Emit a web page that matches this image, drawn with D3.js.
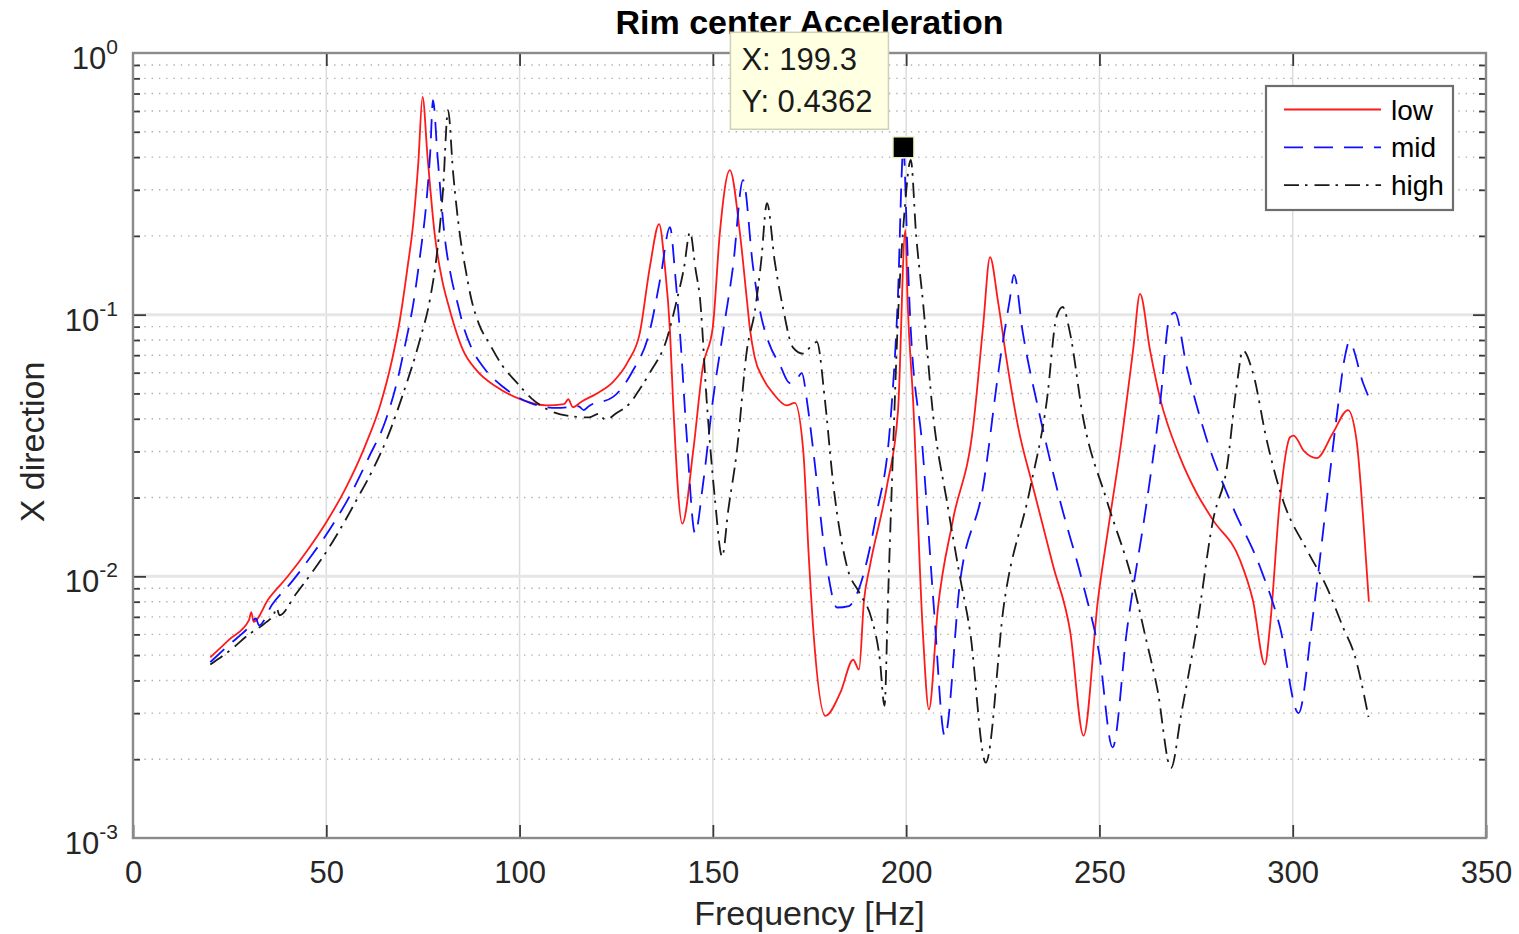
<!DOCTYPE html>
<html>
<head>
<meta charset="utf-8">
<script src="https://cdn.jsdelivr.net/npm/d3@7"></script>
<style>
  html, body { margin: 0; padding: 0; background: #fff; }
  svg { display: block; font-family: "Liberation Sans", Arial, Helvetica, sans-serif; }
</style>
</head>
<body>
<svg id="chart" width="1519" height="934"></svg>
<script>
// values (frequency in Hz, magnitude)
const lowFreq = [20, 25, 30, 30.6, 31.2, 35, 40, 45, 50, 55, 60, 64, 67, 69, 71, 72.5, 73.8, 74.9, 76.2, 78.1, 80, 81.5, 83, 85.4, 89, 94, 101, 107, 111.5, 112.6, 113.8, 116, 120, 124, 128, 131.1, 133.7, 136.1, 137.6, 138.9, 139.7, 142.1, 144.9, 147.4, 150, 151.8, 154.4, 157, 158.8, 159.6, 160.8, 163, 165.6, 169.1, 171.2, 173.4, 174.8, 176, 179.1, 183, 186.3, 187.8, 189.1, 190.6, 195, 197.9, 199.8, 200.4, 201.8, 204.3, 205.9, 208.2, 212.1, 217.3, 219.9, 221.7, 223.7, 226, 229, 232.8, 238, 242.4, 245.9, 249.6, 252.5, 255.3, 258.7, 260.5, 263.1, 265.6, 270.8, 275, 279.4, 286.3, 289.7, 292.8, 294.1, 296.7, 299.3, 300.2, 303, 306.2, 310.4, 314.3, 316.5, 318.2, 319.7];
const lowVal = [0.0049, 0.00575, 0.0068, 0.0073, 0.0067, 0.00817, 0.00998, 0.0125, 0.0161, 0.0217, 0.0314, 0.0454, 0.0671, 0.0948, 0.151, 0.224, 0.38, 0.68, 0.40, 0.20, 0.135, 0.11, 0.092, 0.073, 0.061, 0.053, 0.047, 0.045, 0.0455, 0.0475, 0.0443, 0.0465, 0.050, 0.055, 0.066, 0.085, 0.152, 0.222, 0.152, 0.087, 0.047, 0.0159, 0.030, 0.063, 0.09, 0.205, 0.357, 0.205, 0.114, 0.088, 0.069, 0.057, 0.050, 0.045, 0.046, 0.030, 0.012, 0.0062, 0.00293, 0.0036, 0.0048, 0.0044, 0.0081, 0.0109, 0.022, 0.043, 0.211, 0.11, 0.047, 0.0062, 0.0031, 0.0075, 0.0164, 0.037, 0.090, 0.166, 0.114, 0.067, 0.037, 0.022, 0.011, 0.0062, 0.00246, 0.0081, 0.016, 0.030, 0.073, 0.120, 0.073, 0.0485, 0.0286, 0.021, 0.0164, 0.0116, 0.0081, 0.0046, 0.0064, 0.0196, 0.034, 0.0345, 0.030, 0.0283, 0.0353, 0.0432, 0.0332, 0.0169, 0.008];

const midFreq = [20, 25, 30, 31.8, 32.6, 36, 41, 46, 51, 56, 61, 65.5, 68.5, 70.5, 72.5, 74.3, 75.8, 76.9, 77.6, 78.8, 80.6, 82.5, 84, 85.5, 87.5, 91, 95.7, 102.7, 109.6, 115.3, 116.6, 118, 124.2, 129, 133.7, 136.5, 138.9, 140.3, 141.5, 143.2, 145.4, 147.5, 150, 152.6, 155.2, 157.8, 160.4, 162.4, 164.5, 167.4, 169.9, 171.5, 173, 174.5, 176, 179.5, 182.1, 185.2, 187.3, 192.4, 195.8, 197.8, 199.3, 200.2, 201, 204.3, 207.2, 210, 213.9, 219.9, 224.3, 226.8, 227.9, 230.2, 234.6, 239.8, 245.7, 250, 253.4, 257.1, 262.3, 265.6, 268.2, 269.5, 272.6, 277.8, 284.5, 291.5, 296.7, 301.5, 305.2, 308.8, 311.4, 313.5, 314.6, 318.2, 320];
const midVal = [0.0047, 0.0055, 0.0064, 0.0069, 0.0065, 0.0078, 0.0095, 0.0119, 0.0152, 0.0202, 0.0285, 0.040, 0.057, 0.078, 0.11, 0.17, 0.26, 0.42, 0.66, 0.40, 0.20, 0.135, 0.11, 0.09, 0.075, 0.062, 0.053, 0.046, 0.044, 0.0446, 0.0432, 0.0448, 0.0485, 0.060, 0.087, 0.14, 0.216, 0.14, 0.085, 0.035, 0.0146, 0.0228, 0.047, 0.085, 0.152, 0.327, 0.152, 0.10, 0.078, 0.064, 0.0548, 0.056, 0.0598, 0.045, 0.030, 0.0109, 0.0076, 0.0077, 0.0086, 0.0175, 0.037, 0.11, 0.4362, 0.20, 0.10, 0.030, 0.0075, 0.00245, 0.0094, 0.022, 0.067, 0.114, 0.142, 0.085, 0.041, 0.0195, 0.0094, 0.005, 0.00222, 0.0062, 0.0195, 0.0444, 0.098, 0.102, 0.063, 0.0332, 0.0184, 0.0109, 0.0064, 0.0030, 0.0070, 0.0195, 0.041, 0.069, 0.0787, 0.0548, 0.047];

const highFreq = [20, 25, 30, 34, 36.5, 37.1, 37.9, 42, 46, 50, 54, 58, 62, 66, 69.9, 74.2, 76.8, 78.6, 80.2, 81.5, 82.8, 84.6, 86, 87.5, 89.5, 92.3, 95.5, 99.3, 103, 107.1, 113, 118, 120.5, 122.2, 125, 128.6, 131.1, 133.7, 138, 140.7, 142.5, 144.1, 145.5, 146.7, 148.4, 150.5, 152.4, 154, 156.2, 158.8, 160.9, 162.5, 164, 166, 168.1, 170.7, 173.3, 175.5, 176.9, 179, 181.1, 184.7, 188, 190.9, 193.2, 194.4, 195.3, 196.6, 197.9, 199.6, 201.2, 202.6, 204.3, 207, 210.5, 213.9, 216.5, 220.6, 225.3, 232, 236.4, 238.9, 240.5, 242.4, 245.7, 251.9, 258.7, 262, 265, 268.5, 271.2, 275.2, 279.4, 283, 285.6, 287.1, 289.7, 293.3, 297.5, 303.7, 308.8, 313, 316, 319.6];
const highVal = [0.0046, 0.0052, 0.0060, 0.0066, 0.0072, 0.0076, 0.0071, 0.0085, 0.0102, 0.0124, 0.0155, 0.0198, 0.0255, 0.0345, 0.050, 0.080, 0.114, 0.17, 0.30, 0.605, 0.35, 0.20, 0.15, 0.115, 0.092, 0.077, 0.064, 0.055, 0.048, 0.0435, 0.041, 0.0405, 0.0418, 0.0396, 0.042, 0.046, 0.052, 0.060, 0.080, 0.114, 0.15, 0.207, 0.15, 0.114, 0.047, 0.020, 0.0119, 0.018, 0.030, 0.073, 0.104, 0.16, 0.267, 0.16, 0.107, 0.075, 0.071, 0.076, 0.0787, 0.047, 0.0228, 0.0109, 0.0086, 0.0070, 0.0048, 0.0032, 0.0081, 0.030, 0.098, 0.25, 0.39, 0.20, 0.114, 0.041, 0.0195, 0.010, 0.0062, 0.00194, 0.0078, 0.0214, 0.047, 0.098, 0.107, 0.085, 0.041, 0.0195, 0.0094, 0.0058, 0.0037, 0.00185, 0.0030, 0.0064, 0.0164, 0.0262, 0.055, 0.073, 0.060, 0.033, 0.0195, 0.0126, 0.0091, 0.0064, 0.0050, 0.0029];

const seriesNames = ['low', 'mid', 'high'];
const xTicks = [0, 50, 100, 150, 200, 250, 300, 350];
const yDecades = [1e-3, 1e-2, 1e-1, 1];
const yExponents = ['-3', '-2', '-1', '0'];

// data tip
const tipX = 199.3;
const tipY = 0.4362;

const W = 1519, H = 934;
const margin = { top: 53, right: 33, bottom: 96, left: 133 };
const width = W - margin.left - margin.right;
const height = H - margin.top - margin.bottom;

const svg = d3.select('#chart');
const g = svg.append('g').attr('transform', `translate(${margin.left},${margin.top})`);

const x = d3.scaleLinear().domain([0, 350]).range([0, width]);
const y = d3.scaleLog().domain([1e-3, 1]).range([height, 0]);

// minor decade values 2..9 x 10^k
const yMinor = [];
[1e-3, 1e-2, 1e-1].forEach(d => {
    for (let k = 2; k <= 9; k++) yMinor.push(d * k);
});

// grid
g.append('g')
    .selectAll('line')
    .data(yMinor)
    .join('line')
    .attr('x1', 4).attr('x2', width)
    .attr('y1', d => y(d)).attr('y2', d => y(d))
    .attr('stroke', '#b0b0b0')
    .attr('stroke-width', 1.4)
    .attr('stroke-dasharray', '1.4,5.9');

g.append('g')
    .selectAll('line')
    .data(xTicks.slice(1, -1))
    .join('line')
    .attr('x1', d => x(d)).attr('x2', d => x(d))
    .attr('y1', 0).attr('y2', height)
    .attr('stroke', '#dcdcdc')
    .attr('stroke-width', 1.5);

g.append('g')
    .selectAll('line')
    .data(yDecades.slice(1, -1))
    .join('line')
    .attr('x1', 0).attr('x2', width)
    .attr('y1', d => y(d)).attr('y2', d => y(d))
    .attr('stroke', '#e6e6e6')
    .attr('stroke-width', 3);

// curves
g.append('clipPath').attr('id', 'plotclip')
    .append('rect').attr('width', width).attr('height', height);

const line = d3.line()
    .x(d => x(d[0]))
    .y(d => y(d[1]))
    .curve(d3.curveMonotoneX);

const series = [
    { name: seriesNames[0], pts: d3.zip(lowFreq, lowVal), color: '#ff1a1a', dash: null },
    { name: seriesNames[1], pts: d3.zip(midFreq, midVal), color: '#1010ff', dash: '19,11' },
    { name: seriesNames[2], pts: d3.zip(highFreq, highVal), color: '#1a1a1a', dash: '15,6,2.5,7' }
];

g.append('g')
    .attr('clip-path', 'url(#plotclip)')
    .selectAll('path')
    .data(series)
    .join('path')
    .attr('d', d => line(d.pts))
    .attr('fill', 'none')
    .attr('stroke', d => d.color)
    .attr('stroke-width', 1.8)
    .attr('stroke-dasharray', d => d.dash)
    .attr('stroke-linejoin', 'round');

// axes
const tickColor = '#3a3a3a';
const styleAxis = sel => {
    sel.select('.domain').remove();
    sel.selectAll('.tick line').attr('stroke', tickColor).attr('stroke-width', 1.8);
};

g.append('g')
    .attr('transform', `translate(0,${height})`)
    .call(d3.axisBottom(x).tickValues(xTicks).tickSize(-13).tickPadding(23))
    .call(styleAxis)
    .call(s => s.selectAll('.tick text')
        .attr('fill', '#262626')
        .style('font-size', '31px'));

g.append('g')
    .call(d3.axisTop(x).tickValues(xTicks.slice(1, -1)).tickSize(-13).tickFormat(''))
    .call(styleAxis);

g.append('g')
    .call(d3.axisLeft(y).tickValues(yDecades.slice(1, -1)).tickSize(-13).tickFormat(''))
    .call(styleAxis);
g.append('g')
    .call(d3.axisLeft(y).tickValues(yMinor).tickSize(-7).tickFormat(''))
    .call(styleAxis);
g.append('g')
    .attr('transform', `translate(${width},0)`)
    .call(d3.axisRight(y).tickValues(yDecades.slice(1, -1)).tickSize(-13).tickFormat(''))
    .call(styleAxis);
g.append('g')
    .attr('transform', `translate(${width},0)`)
    .call(d3.axisRight(y).tickValues(yMinor).tickSize(-7).tickFormat(''))
    .call(styleAxis);

// y labels as 10^k
const yLab = g.append('g')
    .selectAll('text')
    .data(yDecades)
    .join('text')
    .attr('x', -15)
    .attr('y', d => y(d) + 16)
    .attr('text-anchor', 'end')
    .attr('fill', '#262626')
    .style('font-size', '31px');
yLab.append('tspan').text('10');
yLab.append('tspan')
    .attr('dy', -15)
    .style('font-size', '21px')
    .text((d, i) => yExponents[i]);

// box
g.append('rect')
    .attr('width', width).attr('height', height)
    .attr('fill', 'none')
    .attr('stroke', '#8a8a8a')
    .attr('stroke-width', 2.4);

// labels
svg.append('text')
    .attr('x', margin.left + width / 2).attr('y', 925)
    .attr('text-anchor', 'middle')
    .attr('fill', '#262626')
    .style('font-size', '34px')
    .text('Frequency [Hz]');

svg.append('text')
    .attr('transform', `translate(44,${margin.top + 389}) rotate(-90)`)
    .attr('text-anchor', 'middle')
    .attr('fill', '#262626')
    .style('font-size', '34px')
    .text('X direction');

svg.append('text')
    .attr('x', margin.left + width / 2).attr('y', 34)
    .attr('text-anchor', 'middle')
    .attr('fill', '#000')
    .style('font-size', '34px')
    .style('font-weight', 'bold')
    .text('Rim center Acceleration');

// legend
const lg = svg.append('g').attr('transform', `translate(${margin.left + width - 220},${margin.top + 33})`);
lg.append('rect')
    .attr('width', 187).attr('height', 124)
    .attr('fill', '#fff')
    .attr('stroke', '#6e6e6e')
    .attr('stroke-width', 2.2);
const rows = lg.selectAll('g.row')
    .data(series)
    .join('g')
    .attr('class', 'row')
    .attr('transform', (d, i) => `translate(0,${23.5 + i * 37.8})`);
rows.append('line')
    .attr('x1', 18).attr('x2', 115)
    .attr('stroke', d => d.color)
    .attr('stroke-width', 1.8)
    .attr('stroke-dasharray', d => d.dash);
rows.append('text')
    .attr('x', 125).attr('y', 10)
    .attr('fill', '#000')
    .style('font-size', '28px')
    .text(d => d.name);

// data tip
const mx = margin.left + x(tipX);
const my = margin.top + y(tipY);
const tip = svg.append('g');
tip.append('rect')
    .attr('x', mx - 173).attr('y', my - 115)
    .attr('width', 158).attr('height', 97)
    .attr('fill', '#ffffe1')
    .attr('stroke', '#d0d0b8')
    .attr('stroke-width', 1.5);
tip.append('text')
    .attr('x', mx - 162).attr('y', my - 77)
    .attr('fill', '#1a1a1a')
    .style('font-size', '31px')
    .text(`X: ${tipX}`);
tip.append('text')
    .attr('x', mx - 162).attr('y', my - 35)
    .attr('fill', '#1a1a1a')
    .style('font-size', '31px')
    .text(`Y: ${tipY}`);
tip.append('rect')
    .attr('x', mx - 10.5).attr('y', my - 10.5)
    .attr('width', 21).attr('height', 21)
    .attr('fill', '#000')
    .attr('stroke', '#f2f2c8')
    .attr('stroke-width', 1.5);
</script>
</body>
</html>
